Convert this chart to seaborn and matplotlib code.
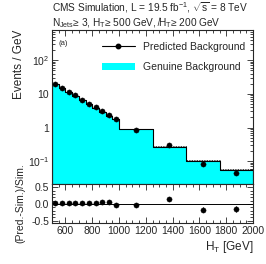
import numpy as np
import seaborn as sns
import matplotlib
matplotlib.use("Agg")
import matplotlib.pyplot as plt
from matplotlib.lines import Line2D
from matplotlib.patches import Patch
from matplotlib.ticker import FixedLocator, LogLocator, NullFormatter, FuncFormatter, MultipleLocator

# HT bin edges and contents (events / GeV)
bin_edges = [500, 550, 600, 650, 700, 750, 800, 850, 900, 950, 1000, 1250, 1500, 1750, 2000]
genuine_bkg = [19.5, 14.5, 11.3, 8.6, 6.5, 5.0, 3.9, 2.9, 2.2, 1.85, 0.88, 0.26, 0.10, 0.054]
genuine_err = [0.0, 0.0, 0.0, 0.0, 0.0, 0.0, 0.0, 0.0, 0.0, 0.0, 0.0, 0.015, 0.006, 0.004]
predicted_bkg = [19.9, 15.1, 11.75, 8.95, 6.6, 5.1, 4.0, 3.1, 2.35, 1.8, 0.85, 0.30, 0.083, 0.046]
ratio_err = [0.01, 0.01, 0.01, 0.01, 0.01, 0.01, 0.01, 0.01, 0.015, 0.015, 0.015, 0.02, 0.08, 0.08]

edges = np.array(bin_edges, dtype=float)
centers = 0.5 * (edges[:-1] + edges[1:])
sim = np.array(genuine_bkg)
pred = np.array(predicted_bkg)
ratio = (pred - sim) / sim

sns.set_style("ticks")
plt.rcParams["font.family"] = ["Liberation Sans", "DejaVu Sans"]
plt.rcParams["mathtext.fontset"] = "custom"
plt.rcParams["mathtext.rm"] = "Liberation Sans"
plt.rcParams["mathtext.it"] = "Liberation Sans:italic"
plt.rcParams["mathtext.default"] = "regular"

fig = plt.figure(figsize=(2.66, 2.64), dpi=100)
W, H = 266.0, 264.0
ax1 = fig.add_axes([52 / W, 1 - 184 / H, 201 / W, 154 / H])
ax2 = fig.add_axes([52 / W, 1 - 223 / H, 201 / W, 39 / H], sharex=ax1)

# main panel
sns.histplot(x=list(centers), weights=list(sim), bins=list(bin_edges), element="step", fill=True,
             color="black", facecolor="#00ffff", alpha=1, linewidth=0.8, ax=ax1)
ax1.stairs(sim + np.array(genuine_err), edges, color="black", linestyle=(0, (1, 1)),
           linewidth=0.6)
sns.scatterplot(x=centers, y=pred, color="black", s=14, edgecolor="black", ax=ax1, zorder=5)
ax1.set_yscale("log")
ax1.set_ylim(0.021, 790)
ax1.set_xlim(500, 2000)
ax1.set_ylabel("Events / GeV", loc="top", fontsize=8.5, labelpad=2)
ax1.set_xlabel("")

def log_fmt(v, pos):
    e = int(round(np.log10(v)))
    if e == 0:
        return "1"
    if e == 1:
        return "10"
    return "$10^{%d}$" % e

ax1.yaxis.set_major_locator(FixedLocator([0.1, 1, 10, 100]))
ax1.yaxis.set_major_formatter(FuncFormatter(log_fmt))
ax1.yaxis.set_minor_locator(LogLocator(base=10, subs=np.arange(2, 10)))
ax1.yaxis.set_minor_formatter(NullFormatter())
ax1.tick_params(labelbottom=False)

handles = [Line2D([0], [0], color="black", marker="o", markersize=3.2, linewidth=0.8),
           Patch(facecolor="#00ffff", edgecolor="none")]
ax1.legend(handles, ["Predicted Background", "Genuine Background"], loc="upper right",
           frameon=False, fontsize=7.5, handlelength=3.2, labelspacing=1.0,
           borderaxespad=0.3, bbox_to_anchor=(1.0, 0.97))
ax1.text(0.03, 0.9, "(a)", transform=ax1.transAxes, fontsize=5.5)

# ratio panel
ax2.axhline(0, color="black", linewidth=0.7)
ax2.errorbar(centers, ratio, yerr=ratio_err, fmt="none", ecolor="black", elinewidth=0.8)
sns.scatterplot(x=centers, y=ratio, color="black", s=14, edgecolor="black", ax=ax2, zorder=5)
ax2.set_ylim(-0.57, 0.6)
ax2.yaxis.set_major_locator(FixedLocator([-0.5, 0.0, 0.5]))
ax2.yaxis.set_major_formatter(FuncFormatter(lambda v, p: "%.1f" % v))
ax2.yaxis.set_minor_locator(MultipleLocator(0.1))
ax2.set_ylabel("(Pred.-Sim.)/Sim.", fontsize=7.5, labelpad=4)
ax2.set_xlabel("$H_T$ [GeV]", loc="right", fontsize=8.5, labelpad=2)
ax2.xaxis.set_major_locator(MultipleLocator(200))
ax2.xaxis.set_minor_locator(MultipleLocator(50))
ax2.set_xlim(500, 2000)

for ax in (ax1, ax2):
    for s in ax.spines.values():
        s.set_linewidth(0.8)
        s.set_visible(True)
    ax.tick_params(which="both", direction="in", top=True, right=True, labelsize=7.5,
                   width=0.6, pad=2)
    ax.tick_params(which="major", length=4)
    ax.tick_params(which="minor", length=2)

fig.text(52 / W, 1 - 8 / H, "CMS Simulation, L = 19.5 fb$^{-1}$, $\\sqrt{s}$ = 8 TeV",
         fontsize=7.3, va="center", ha="left")
fig.text(52 / W, 1 - 23 / H, "N$_{Jets}$\u2265 3, H$_T$\u2265 500 GeV, $\\not{H}_T$\u2265 200 GeV",
         fontsize=7.3, va="center", ha="left")

fig.savefig("out.png", dpi=100)
